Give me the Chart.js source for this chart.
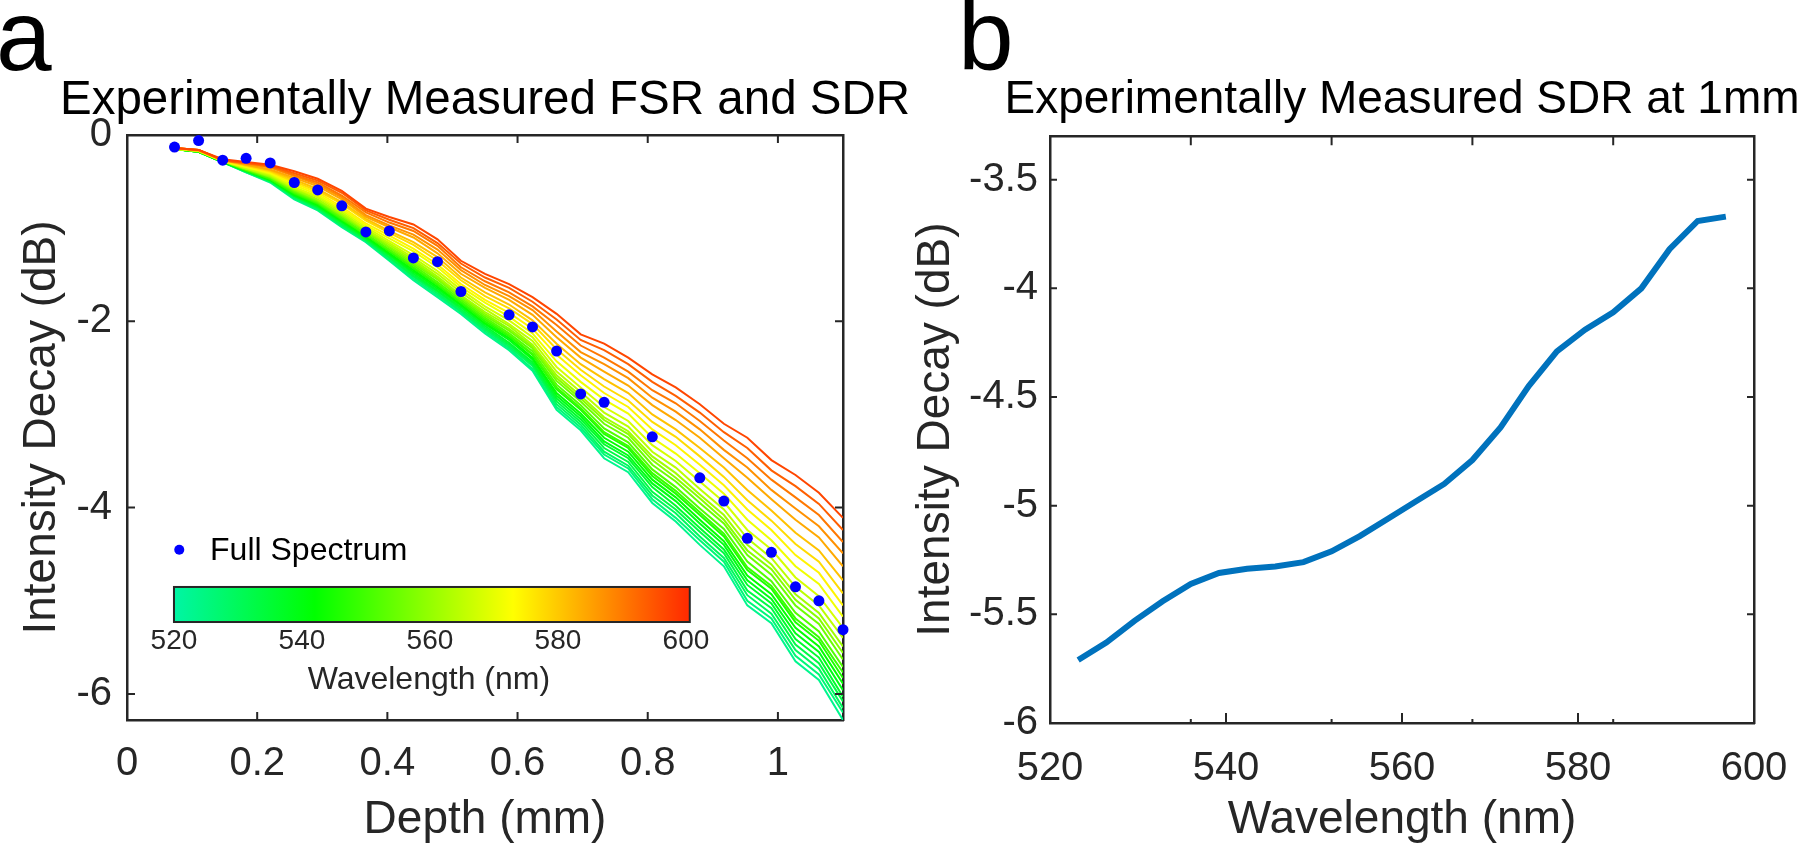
<!DOCTYPE html>
<html>
<head>
<meta charset="utf-8">
<script src="https://cdn.jsdelivr.net/npm/chart.js@4.4.1/dist/chart.umd.min.js"></script>
<style>
  html, body { margin: 0; padding: 0; background: #fff; overflow: hidden; width: 1800px; height: 848px; }
  .letter { position: absolute; font-family: "Liberation Sans", Arial, sans-serif; font-size: 100px; line-height: 100px; color: #000; }
  canvas { position: absolute; top: 0; }
</style>
</head>
<body>
<div class="letter" style="left:-4px; top:-15px;">a</div>
<div class="letter" style="left:958px; top:-15px;">b</div>
<canvas id="chartA" width="970" height="848" style="left:0; width:970px; height:848px;"></canvas>
<canvas id="chartB" width="1004" height="848" style="left:900px; width:1004px; height:848px;"></canvas>
<script>
// ---- data, panel a ----

// depth grid of the spectral lines (mm)
const depths = [0.073, 0.110, 0.147, 0.183, 0.220, 0.257, 0.293, 0.330, 0.367, 0.403, 0.440, 0.477, 0.513, 0.550,
  0.587, 0.623, 0.660, 0.697, 0.733, 0.770, 0.807, 0.843, 0.880, 0.917, 0.953, 0.990, 1.027, 1.063, 1.100];

// wavelength of each line (nm)
const wavelengths = [523.2, 526.4, 529.6, 532.8, 536.0, 539.2, 542.4, 545.6, 548.8, 552.0, 555.2, 558.4,
  561.6, 564.8, 568.0, 571.2, 574.4, 577.6, 580.8, 584.0, 587.2, 590.4, 593.6, 596.8];

// intensity decay (dB), one row per depth, one column per wavelength
const decayByDepth = [
  [-0.15,-0.15,-0.15,-0.15,-0.15,-0.15,-0.15,-0.15,-0.15,-0.15,-0.15,-0.15,-0.15,-0.15,-0.15,-0.14,-0.14,-0.14,-0.14,-0.14,-0.14,-0.14,-0.14,-0.14],
  [-0.18,-0.18,-0.18,-0.18,-0.18,-0.18,-0.18,-0.18,-0.18,-0.17,-0.17,-0.17,-0.17,-0.17,-0.17,-0.17,-0.17,-0.17,-0.17,-0.16,-0.16,-0.16,-0.16,-0.16],
  [-0.29,-0.29,-0.29,-0.29,-0.29,-0.29,-0.29,-0.28,-0.28,-0.28,-0.28,-0.28,-0.28,-0.28,-0.28,-0.28,-0.28,-0.27,-0.27,-0.27,-0.27,-0.27,-0.27,-0.26],
  [-0.40,-0.40,-0.39,-0.39,-0.39,-0.38,-0.38,-0.38,-0.38,-0.37,-0.37,-0.36,-0.36,-0.36,-0.35,-0.34,-0.34,-0.33,-0.32,-0.32,-0.31,-0.30,-0.30,-0.29],
  [-0.51,-0.50,-0.50,-0.49,-0.49,-0.48,-0.48,-0.47,-0.47,-0.46,-0.45,-0.45,-0.44,-0.43,-0.42,-0.41,-0.40,-0.39,-0.38,-0.37,-0.35,-0.34,-0.33,-0.32],
  [-0.69,-0.68,-0.67,-0.66,-0.65,-0.65,-0.64,-0.63,-0.62,-0.61,-0.60,-0.59,-0.58,-0.57,-0.56,-0.54,-0.52,-0.50,-0.48,-0.46,-0.44,-0.43,-0.41,-0.39],
  [-0.81,-0.80,-0.79,-0.78,-0.77,-0.76,-0.75,-0.74,-0.73,-0.72,-0.71,-0.70,-0.69,-0.67,-0.66,-0.64,-0.62,-0.60,-0.58,-0.55,-0.53,-0.51,-0.49,-0.47],
  [-0.99,-0.98,-0.97,-0.96,-0.94,-0.93,-0.92,-0.91,-0.90,-0.89,-0.87,-0.86,-0.85,-0.83,-0.81,-0.79,-0.77,-0.74,-0.72,-0.69,-0.67,-0.65,-0.62,-0.60],
  [-1.15,-1.14,-1.13,-1.12,-1.11,-1.10,-1.09,-1.07,-1.07,-1.06,-1.04,-1.03,-1.02,-1.01,-0.99,-0.97,-0.95,-0.92,-0.90,-0.88,-0.86,-0.83,-0.81,-0.79],
  [-1.35,-1.34,-1.32,-1.31,-1.29,-1.28,-1.27,-1.25,-1.24,-1.23,-1.21,-1.20,-1.18,-1.16,-1.14,-1.11,-1.08,-1.05,-1.03,-0.99,-0.97,-0.94,-0.91,-0.88],
  [-1.56,-1.54,-1.52,-1.51,-1.49,-1.47,-1.45,-1.43,-1.42,-1.40,-1.38,-1.36,-1.34,-1.32,-1.29,-1.25,-1.22,-1.18,-1.15,-1.10,-1.07,-1.03,-1.00,-0.96],
  [-1.74,-1.72,-1.70,-1.68,-1.67,-1.65,-1.63,-1.61,-1.60,-1.58,-1.55,-1.54,-1.52,-1.49,-1.46,-1.42,-1.39,-1.35,-1.31,-1.27,-1.23,-1.19,-1.16,-1.12],
  [-1.92,-1.90,-1.89,-1.87,-1.85,-1.83,-1.82,-1.80,-1.79,-1.77,-1.75,-1.73,-1.72,-1.69,-1.66,-1.63,-1.60,-1.56,-1.53,-1.49,-1.45,-1.42,-1.38,-1.35],
  [-2.13,-2.11,-2.09,-2.07,-2.05,-2.03,-2.02,-2.00,-1.98,-1.96,-1.94,-1.92,-1.90,-1.87,-1.84,-1.80,-1.77,-1.73,-1.69,-1.64,-1.61,-1.57,-1.53,-1.49],
  [-2.31,-2.29,-2.27,-2.25,-2.23,-2.20,-2.18,-2.16,-2.15,-2.13,-2.10,-2.08,-2.05,-2.03,-1.99,-1.95,-1.91,-1.86,-1.82,-1.77,-1.73,-1.69,-1.64,-1.60],
  [-2.53,-2.51,-2.48,-2.46,-2.44,-2.41,-2.39,-2.36,-2.35,-2.32,-2.29,-2.27,-2.25,-2.21,-2.17,-2.13,-2.08,-2.03,-1.99,-1.93,-1.88,-1.84,-1.79,-1.74],
  [-2.95,-2.92,-2.89,-2.86,-2.83,-2.80,-2.77,-2.73,-2.71,-2.68,-2.64,-2.61,-2.58,-2.54,-2.49,-2.43,-2.36,-2.30,-2.24,-2.17,-2.11,-2.04,-1.98,-1.92],
  [-3.17,-3.14,-3.11,-3.08,-3.05,-3.02,-2.99,-2.95,-2.93,-2.90,-2.86,-2.83,-2.80,-2.76,-2.71,-2.65,-2.58,-2.52,-2.46,-2.39,-2.33,-2.26,-2.20,-2.14],
  [-3.47,-3.43,-3.40,-3.36,-3.32,-3.29,-3.25,-3.21,-3.19,-3.15,-3.10,-3.06,-3.03,-2.98,-2.92,-2.84,-2.77,-2.70,-2.62,-2.54,-2.46,-2.39,-2.31,-2.24],
  [-3.62,-3.58,-3.55,-3.51,-3.47,-3.44,-3.40,-3.36,-3.34,-3.30,-3.25,-3.21,-3.18,-3.13,-3.07,-2.99,-2.92,-2.85,-2.77,-2.69,-2.61,-2.54,-2.46,-2.39],
  [-3.95,-3.91,-3.87,-3.83,-3.78,-3.74,-3.70,-3.66,-3.63,-3.59,-3.54,-3.49,-3.45,-3.40,-3.33,-3.25,-3.16,-3.08,-3.00,-2.90,-2.82,-2.74,-2.65,-2.57],
  [-4.15,-4.11,-4.06,-4.02,-3.98,-3.93,-3.89,-3.85,-3.82,-3.78,-3.72,-3.68,-3.63,-3.57,-3.50,-3.42,-3.33,-3.24,-3.16,-3.06,-2.97,-2.88,-2.80,-2.71],
  [-4.40,-4.35,-4.31,-4.26,-4.22,-4.17,-4.13,-4.08,-4.05,-4.01,-3.95,-3.90,-3.86,-3.80,-3.72,-3.63,-3.54,-3.45,-3.36,-3.25,-3.16,-3.07,-2.98,-2.89],
  [-4.63,-4.58,-4.54,-4.49,-4.45,-4.40,-4.36,-4.31,-4.28,-4.23,-4.17,-4.13,-4.08,-4.02,-3.94,-3.85,-3.76,-3.67,-3.57,-3.47,-3.38,-3.28,-3.19,-3.10],
  [-5.05,-5.00,-4.94,-4.89,-4.83,-4.78,-4.73,-4.67,-4.64,-4.58,-4.51,-4.46,-4.40,-4.33,-4.24,-4.13,-4.02,-3.92,-3.81,-3.68,-3.57,-3.47,-3.36,-3.25],
  [-5.24,-5.19,-5.14,-5.08,-5.03,-4.98,-4.93,-4.87,-4.84,-4.79,-4.72,-4.66,-4.61,-4.54,-4.45,-4.35,-4.24,-4.14,-4.03,-3.91,-3.81,-3.70,-3.60,-3.49],
  [-5.65,-5.59,-5.53,-5.47,-5.41,-5.35,-5.29,-5.23,-5.19,-5.13,-5.05,-4.99,-4.93,-4.85,-4.75,-4.63,-4.51,-4.39,-4.27,-4.13,-4.01,-3.89,-3.77,-3.65],
  [-5.85,-5.79,-5.73,-5.67,-5.61,-5.55,-5.49,-5.43,-5.39,-5.33,-5.25,-5.19,-5.13,-5.05,-4.95,-4.82,-4.70,-4.58,-4.46,-4.32,-4.20,-4.08,-3.96,-3.84],
  [-6.28,-6.20,-6.15,-6.08,-6.03,-5.96,-5.89,-5.83,-5.77,-5.71,-5.63,-5.56,-5.49,-5.40,-5.29,-5.17,-5.05,-4.92,-4.78,-4.63,-4.49,-4.37,-4.24,-4.11]
];

// full spectrum measurement (blue dots)
const fullDepth = [0.073, 0.110, 0.147, 0.183, 0.220, 0.257, 0.293, 0.330, 0.367, 0.403, 0.440, 0.477, 0.513,
  0.587, 0.623, 0.660, 0.697, 0.733, 0.807, 0.880, 0.917, 0.953, 0.990, 1.027, 1.063, 1.100];
const fullDecay = [-0.13, -0.06, -0.27, -0.25, -0.30, -0.51, -0.59, -0.76, -1.04, -1.03, -1.32, -1.36, -1.68,
  -1.93, -2.06, -2.32, -2.78, -2.87, -3.24, -3.68, -3.93, -4.33, -4.48, -4.85, -5.00, -5.31];

// ---- data, panel b ----
// SDR at 1 mm for each wavelength of `wavelengths`
const sdrAt1mm = [-5.71, -5.63, -5.53, -5.44, -5.36, -5.31, -5.29, -5.28, -5.26, -5.21, -5.14, -5.06,
  -4.98, -4.90, -4.79, -4.64, -4.45, -4.29, -4.19, -4.11, -4.00, -3.82, -3.69, -3.67];

// ---- ticks ----
const depthTicks = [0, 0.2, 0.4, 0.6, 0.8, 1];
const decayTicks = [-6, -4, -2, 0];
const wlTicks = [520, 540, 560, 580, 600];
const wlOddTicks = [536, 552, 568, 584];
const sdrTicks = [-6, -5.5, -5, -4.5, -4, -3.5];
const barTicks = [520, 540, 560, 580, 600];

// ---- style ----
const FONT = '"Liberation Sans", Arial, Helvetica, sans-serif';
const AXIS = '#262626';
Chart.defaults.font.family = FONT;
Chart.defaults.color = AXIS;

// colormap used for the wavelength lines and the colorbar
const cmap = [[520, [0, 245, 165]], [542, [0, 255, 0]], [573, [255, 255, 0]], [600, [255, 45, 0]]];
const barRange = [520, 600.6];

let wlColor = (w) => {
  for (let i = 1; i < cmap.length; i++) {
    if (w <= cmap[i][0] || i === cmap.length - 1) {
      const [w0, c0] = cmap[i - 1];
      const [w1, c1] = cmap[i];
      const t = Math.max(0, Math.min(1, (w - w0) / (w1 - w0)));
      const c = c0.map((v, j) => Math.round(v + (c1[j] - v) * t));
      return 'rgb(' + c[0] + ',' + c[1] + ',' + c[2] + ')';
    }
  }
};

// inward tick marks on all four sides of the box
const boxTicks = {
  id: 'boxTicks',
  afterDraw(chart, args, o) {
    const {ctx, chartArea: ca} = chart;
    const x = chart.scales.x, y = chart.scales.y;
    ctx.save();
    ctx.strokeStyle = AXIS;
    ctx.lineWidth = 2;
    ctx.beginPath();
    (o.bottom || []).forEach(g => g.values.forEach(v => {
      const px = x.getPixelForValue(v);
      ctx.moveTo(px, ca.bottom); ctx.lineTo(px, ca.bottom - g.len);
    }));
    (o.top || []).forEach(g => g.values.forEach(v => {
      const px = x.getPixelForValue(v);
      ctx.moveTo(px, ca.top); ctx.lineTo(px, ca.top + g.len);
    }));
    (o.sides || []).forEach(g => g.values.forEach(v => {
      const py = y.getPixelForValue(v);
      ctx.moveTo(ca.left, py); ctx.lineTo(ca.left + g.len, py);
      ctx.moveTo(ca.right, py); ctx.lineTo(ca.right - g.len, py);
    }));
    ctx.stroke();
    ctx.restore();
  }
};

// colorbar + "Full Spectrum" legend inside panel a
const colorBar = {
  id: 'colorBar',
  afterDraw(chart, args, o) {
    const {ctx, chartArea: ca} = chart;
    const fx = f => ca.left + f * ca.width;
    const fy = f => ca.top + f * ca.height;
    ctx.save();

    // legend entry
    ctx.fillStyle = '#0000ff';
    ctx.beginPath();
    ctx.arc(fx(0.073), fy(0.709), 5, 0, Math.PI * 2);
    ctx.fill();
    ctx.fillStyle = '#000';
    ctx.font = '32px ' + FONT;
    ctx.textAlign = 'left';
    ctx.textBaseline = 'middle';
    ctx.fillText('Full Spectrum', fx(0.116), fy(0.711));

    // bar
    const x0 = fx(0.0656), x1 = fx(0.786), y0 = fy(0.7726), y1 = fy(0.8325);
    const grad = ctx.createLinearGradient(x0, 0, x1, 0);
    cmap.forEach(([w]) => {
      const t = (w - barRange[0]) / (barRange[1] - barRange[0]);
      grad.addColorStop(Math.min(1, Math.max(0, t)), wlColor(w));
    });
    grad.addColorStop(1, wlColor(barRange[1]));
    ctx.fillStyle = grad;
    ctx.fillRect(x0, y0, x1 - x0, y1 - y0);
    ctx.strokeStyle = AXIS;
    ctx.lineWidth = 2;
    ctx.strokeRect(x0, y0, x1 - x0, y1 - y0);

    // bar labels
    ctx.fillStyle = AXIS;
    ctx.font = '28px ' + FONT;
    ctx.textAlign = 'center';
    barTicks.forEach(v => {
      const px = x0 + (v - barRange[0]) / (barRange[1] - barRange[0]) * (x1 - x0);
      ctx.fillText(String(v), px, y1 + 19);
    });
    ctx.font = '32px ' + FONT;
    ctx.fillText('Wavelength (nm)', (x0 + x1) / 2 - 3, y1 + 58);
    ctx.restore();
  }
};

let fixTicks = (list) => (s) => { s.ticks = list.map(v => ({value: v})); };

// ---- panel a ----
const setsA = wavelengths.map((w, i) => ({
  type: 'line',
  label: w + ' nm',
  data: depths.map((d, k) => ({x: d, y: decayByDepth[k][i]})),
  borderColor: wlColor(w),
  borderWidth: 2,
  pointRadius: 0,
  fill: false,
  tension: 0,
  order: 100 - i
}));
setsA.push({
  type: 'scatter',
  label: 'Full Spectrum',
  data: fullDepth.map((d, k) => ({x: d, y: fullDecay[k]})),
  backgroundColor: '#0000ff',
  borderWidth: 0,
  pointRadius: 5.5,
  clip: false,
  order: 0
});

new Chart(document.getElementById('chartA'), {
  type: 'line',
  data: {datasets: setsA},
  options: {
    responsive: false,
    animation: false,
    layout: {padding: 0},
    plugins: {
      legend: {display: false},
      tooltip: {enabled: false},
      title: {
        display: true,
        text: 'Experimentally Measured FSR and SDR',
        color: '#000',
        font: {size: 47.5, weight: 'normal'},
        padding: {top: 72, bottom: 6}
      },
      boxTicks: {
        bottom: [{values: depthTicks, len: 8}],
        top: [{values: depthTicks, len: 8}],
        sides: [{values: decayTicks, len: 8}]
      }
    },
    scales: {
      x: {
        type: 'linear', position: 'bottom', min: 0, max: 1.1,
        afterBuildTicks: fixTicks(depthTicks),
        afterFit: s => { s.height = 128; },
        grid: {display: false, drawTicks: false},
        border: {color: AXIS, width: 2.5},
        ticks: {font: {size: 40}, padding: 20, maxRotation: 0, autoSkip: false, callback: v => String(v)},
        title: {display: true, text: 'Depth (mm)', font: {size: 46}, padding: {top: 0, bottom: 0}}
      },
      y: {
        type: 'linear', position: 'left', min: -6.28, max: 0,
        afterBuildTicks: fixTicks(decayTicks),
        afterFit: s => { s.width = 127; },
        grid: {display: false, drawTicks: false},
        border: {color: AXIS, width: 2.5},
        ticks: {font: {size: 40}, padding: 15, autoSkip: false, callback: v => String(v)},
        title: {display: true, text: 'Intensity Decay (dB)', font: {size: 46}, padding: {top: 15, bottom: 0}}
      },
      xTop: {
        type: 'linear', axis: 'x', position: 'top', min: 0, max: 1.1,
        afterFit: s => { s.height = 0; },
        grid: {display: false, drawTicks: false},
        border: {color: AXIS, width: 2.5},
        ticks: {display: false}
      },
      yRight: {
        type: 'linear', axis: 'y', position: 'right', min: -6.28, max: 0,
        afterFit: s => { s.width = 127; },
        grid: {display: false, drawTicks: false},
        border: {color: AXIS, width: 2.5},
        ticks: {display: false}
      }
    }
  },
  plugins: [boxTicks, colorBar]
});

// ---- panel b ----
new Chart(document.getElementById('chartB'), {
  type: 'line',
  data: {
    datasets: [{
      label: 'SDR at 1 mm',
      data: wavelengths.map((w, i) => ({x: w, y: sdrAt1mm[i]})),
      borderColor: '#0072BD',
      borderWidth: 6,
      pointRadius: 0,
      fill: false,
      tension: 0
    }]
  },
  options: {
    responsive: false,
    animation: false,
    layout: {padding: 0},
    plugins: {
      legend: {display: false},
      tooltip: {enabled: false},
      title: {
        display: true,
        text: 'Experimentally Measured SDR at 1mm',
        color: '#000',
        font: {size: 46, weight: 'normal'},
        padding: {top: 73, bottom: 8}
      },
      boxTicks: {
        bottom: [{values: wlTicks.slice(1, -1), len: 10}, {values: wlOddTicks, len: 4}],
        top: [{values: wlOddTicks, len: 9}],
        sides: [{values: sdrTicks, len: 7}]
      }
    },
    scales: {
      x: {
        type: 'linear', position: 'bottom', min: 520, max: 600,
        afterBuildTicks: fixTicks(wlTicks),
        afterFit: s => { s.height = 125; },
        grid: {display: false, drawTicks: false},
        border: {color: AXIS, width: 2.5},
        ticks: {font: {size: 40}, padding: 22, maxRotation: 0, autoSkip: false, callback: v => String(v)},
        title: {display: true, text: 'Wavelength (nm)', font: {size: 46}, padding: {top: 0, bottom: 0}}
      },
      y: {
        type: 'linear', position: 'left', min: -6, max: -3.3,
        afterBuildTicks: fixTicks(sdrTicks),
        afterFit: s => { s.width = 150; },
        grid: {display: false, drawTicks: false},
        border: {color: AXIS, width: 2.5},
        ticks: {font: {size: 40}, padding: 12, autoSkip: false, callback: v => String(v)},
        title: {display: true, text: 'Intensity Decay (dB)', font: {size: 46}, padding: {top: 9, bottom: 0}}
      },
      xTop: {
        type: 'linear', axis: 'x', position: 'top', min: 520, max: 600,
        afterFit: s => { s.height = 0; },
        grid: {display: false, drawTicks: false},
        border: {color: AXIS, width: 2.5},
        ticks: {display: false}
      },
      yRight: {
        type: 'linear', axis: 'y', position: 'right', min: -6, max: -3.3,
        afterFit: s => { s.width = 150; },
        grid: {display: false, drawTicks: false},
        border: {color: AXIS, width: 2.5},
        ticks: {display: false}
      }
    }
  },
  plugins: [boxTicks]
});
</script>
</body>
</html>
